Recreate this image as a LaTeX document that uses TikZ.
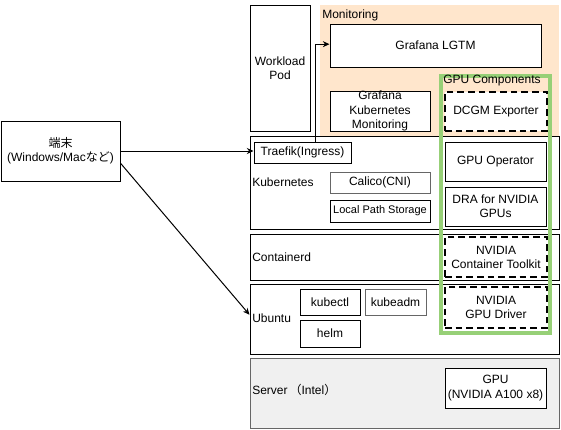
\documentclass[tikz,border=0pt]{standalone}
\usepackage{fontspec}
\setmainfont{Liberation Sans}
\newfontfamily\cjk{Noto Sans CJK JP}
\usetikzlibrary{arrows.meta,calc}
\definecolor{monfill}{HTML}{FFE6CC}
\definecolor{gpugreen}{HTML}{97D077}
\definecolor{darkgray}{HTML}{666666}
\definecolor{srvfill}{HTML}{F0F0F0}
\newcommand\bx[7]{\node[#6, minimum width={(#4-#2)*0.75pt}, minimum height={(#5-#3)*0.75pt}] (#1) at ({(#2+#4)/2},{(#3+#5)/2}) {#7};}
\tikzset{
  base/.style={font=\fontsize{9}{10.6}\selectfont, align=center, inner sep=0pt},
  box/.style={base, draw=black, line width=0.75pt, fill=white},
  graybox/.style={base, draw=darkgray, line width=0.75pt, fill=white},
  dashbox/.style={base, draw=black, line width=1.7pt, fill=white, dash pattern=on 5pt off 3pt},
  layer/.style={box},
  srvbox/.style={base, draw=darkgray, line width=0.75pt, fill=srvfill},
  region/.style={base, fill=monfill, draw=none},
  grp/.style={base, draw=gpugreen, line width=2.6pt},
  lbl/.style={base, anchor=west},
  arr/.style={line width=0.75pt, -{Stealth[length=5pt,width=4.5pt]}},
}
\begin{document}
\begin{tikzpicture}[x=0.75pt,y=-0.75pt]
\useasboundingbox (0,0) rectangle (561,429);
% monitoring region
\bx{mon}{320}{5}{559}{137}{region}{}
\node[lbl] (monlbl) at (322,15) {Monitoring};
\bx{lgtm}{330}{24}{541}{67}{box}{Grafana LGTM}
\bx{gkm}{330}{91}{430}{131}{box}{Grafana\\Kubernetes\\Monitoring}
\bx{dcgm}{445}{92}{547}{131}{dashbox}{DCGM Exporter}
% workload pod
\bx{wp}{250}{5}{310}{131}{box}{Workload\\Pod}
% terminal
\bx{term}{1}{121}{120}{181}{box}{{\cjk 端末}\\(Windows/Mac{\cjk など})}
% kubernetes
\bx{k8s}{250}{136}{559}{229}{layer}{}
\node[lbl] (k8slbl) at (252,182) {Kubernetes};
\bx{traefik}{254}{142}{351}{163}{box}{Traefik(Ingress)}
\bx{calico}{330}{172}{430}{193}{graybox}{Calico(CNI)}
\bx{lps}{330}{200}{430}{222}{box,font=\fontsize{8.25}{10}\selectfont}{Local Path Storage}
\bx{gpuop}{445}{142}{546}{181}{box}{GPU Operator}
\bx{dra}{445}{187}{546}{226}{box}{DRA for NVIDIA\\GPUs}
% containerd
\bx{ctd}{250}{234}{559}{280}{layer}{}
\node[lbl] (ctdlbl) at (252,257) {Containerd};
\bx{nct}{445}{237}{547}{277}{dashbox}{NVIDIA\\Container Toolkit}
% ubuntu
\bx{ubu}{250}{284}{559}{354}{layer}{}
\node[lbl] (ubulbl) at (252,318) {Ubuntu};
\bx{kubectl}{300}{289}{360}{315}{box}{kubectl}
\bx{kubeadm}{365}{289}{426}{315}{graybox}{kubeadm}
\bx{helm}{300}{320}{360}{347}{box}{helm}
\bx{drv}{445}{287}{547}{328}{dashbox}{NVIDIA\\GPU Driver}
% server
\bx{srv}{250}{358}{559}{428}{srvbox}{}
\node[lbl] (srvlbl) at (252,390) {Server\,{\cjk （}Intel{\cjk ）}};
\bx{gpu}{445}{368}{546}{408}{box}{GPU\\(NVIDIA A100 x8)}
% GPU components group
\bx{gpucomp}{441}{76}{550}{333}{grp}{}
\node[lbl] (gpulbl) at (443,81) {GPU Components};
% connectors
\draw[arr] (term.east) -- (term.east -| traefik.west);
\draw[arr] ($(term.north east)!0.7!(term.south east)$) -- ($(ubu.north west)!0.44!(ubu.south west)$);
\draw[arr] ($(traefik.north west)!0.63!(traefik.north east)$) |- ($(lgtm.north west)!0.47!(lgtm.south west)$);
\end{tikzpicture}
\end{document}
